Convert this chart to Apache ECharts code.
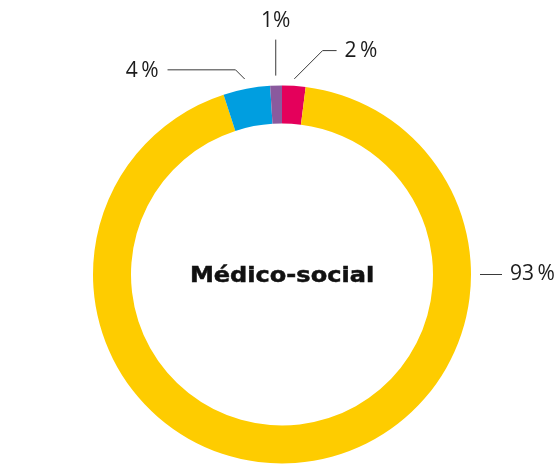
<!DOCTYPE html>
<html>
<head>
<meta charset="utf-8">
<script src="https://cdn.jsdelivr.net/npm/echarts@6/dist/echarts.min.js"></script>
<style>
  html, body { margin: 0; padding: 0; background: #ffffff; }
  #chart { width: 557px; height: 464px; }
</style>
</head>
<body>
<div id="chart"></div>
<script>
// ---- data ----
const CATEGORIES = ['Catégorie A', 'Catégorie B', 'Catégorie C', 'Catégorie D'];
const VALUES = [2, 93, 4, 1];
const LABELS = ['2\u2009%', '93\u2009%', '4\u2009%', '1%'];
const CENTER_TITLE = 'Médico-social';

// ---- styles / layout ----
const COLORS = ['#E4005B', '#FECC00', '#009EE0', '#8A5A9E'];
const CX = 282, CY = 274.5, R_OUT = 189, R_IN = 151;
// label guides: anchor angle (deg clockwise from top, default = slice middle),
// gap from ring, first segment direction & length, horizontal segment length, label side
const GUIDES = [
  { gap: 7,  dir: 45,  len1: 40, len2: 14, side: 'right' },
  { anchor: 90, gap: 9, dir: 90, len1: 0, len2: 22, side: 'right' },
  { gap: 10, dir: -45, len1: 13, len2: 68, side: 'left' },
  { gap: 10, dir: 0,   len1: 36, len2: 0,  side: 'top' }
];

const total = VALUES.reduce((a, b) => a + b, 0);
const midAngles = [];
let acc = 0;
VALUES.forEach(v => { midAngles.push(360 * (acc + v / 2) / total); acc += v; });

function rad(d) { return d * Math.PI / 180; }
function pt(a, r) { return [CX + r * Math.sin(rad(a)), CY - r * Math.cos(rad(a))]; }

const chart = echarts.init(document.getElementById('chart'), null, { renderer: 'canvas' });
chart.setOption({
  animation: false,
  backgroundColor: '#ffffff',
  graphic: [{
    type: 'text',
    x: CX, y: CY + 2,
    scaleX: 1.145,
    style: {
      text: CENTER_TITLE,
      fontFamily: 'DejaVu Sans',
      fontWeight: 'bold',
      fontSize: 21,
      fill: '#111111',
      stroke: '#111111',
      lineWidth: 0.5,
      align: 'center',
      verticalAlign: 'middle'
    }
  }],
  series: [{
    type: 'pie',
    center: [CX, CY],
    radius: [R_IN, R_OUT],
    startAngle: 90,
    clockwise: true,
    avoidLabelOverlap: false,
    data: CATEGORIES.map((n, i) => ({ name: n, value: VALUES[i], itemStyle: { color: COLORS[i] } })),
    label: {
      show: true,
      position: 'outside',
      formatter: p => LABELS[p.dataIndex],
      fontFamily: 'Open Sans',
      fontSize: 21,
      color: '#1c1c1c'
    },
    labelLine: {
      show: true,
      lineStyle: { color: '#3a3a3a', width: 1 }
    },
    labelLayout: function (params) {
      const i = params.dataIndex;
      const g = GUIDES[i];
      const a = g.anchor != null ? g.anchor : midAngles[i];
      const p1 = pt(a, R_OUT + g.gap);
      const p2 = [p1[0] + g.len1 * Math.sin(rad(g.dir)), p1[1] - g.len1 * Math.cos(rad(g.dir))];
      let p3, lx, ly, align, valign = 'middle';
      if (g.side === 'right') {
        p3 = [p2[0] + g.len2, p2[1]]; lx = p3[0] + 8; ly = p3[1]; align = 'left';
      } else if (g.side === 'left') {
        p3 = [p2[0] - g.len2, p2[1]]; lx = p3[0] - 9; ly = p3[1] + 1; align = 'right';
      } else {
        p3 = [p2[0], p2[1]]; lx = p2[0]; ly = p2[1] - 19; align = 'center';
      }
      return { x: lx, y: ly, align: align, verticalAlign: valign, labelLinePoints: [p1, p2, p3] };
    }
  }]
});
</script>
</body>
</html>
